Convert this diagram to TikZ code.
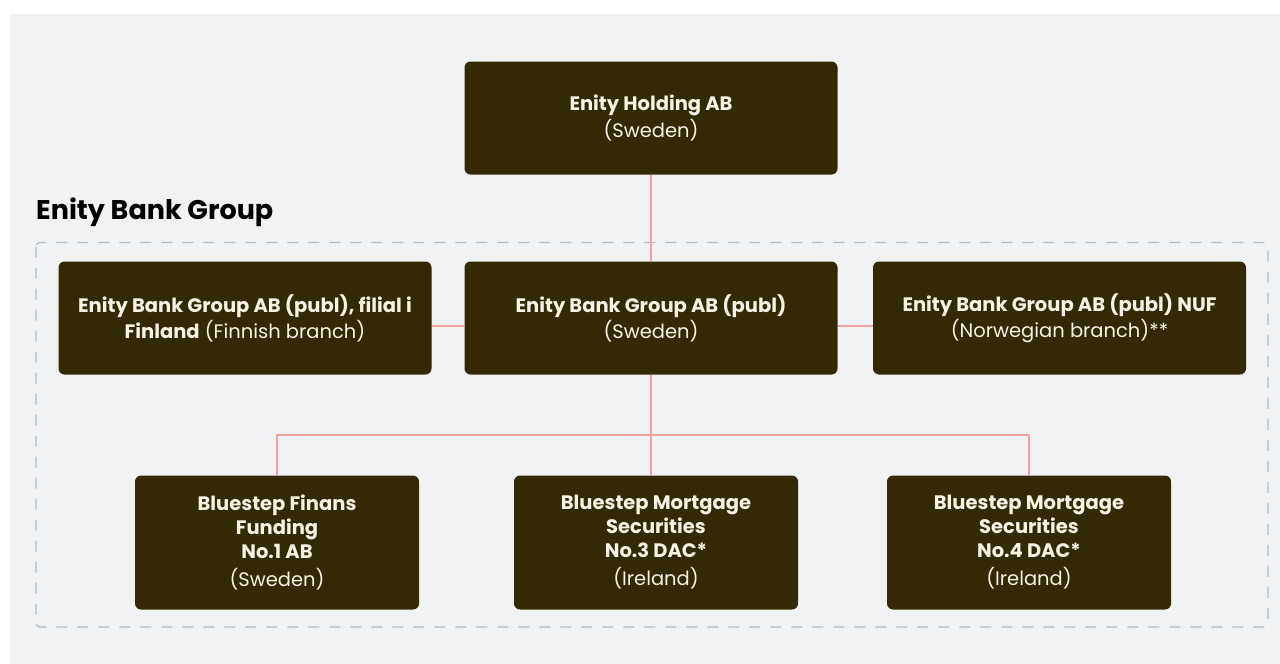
\documentclass[tikz,border=0pt]{standalone}
\usepackage{fontspec}
\setmainfont{Poppins}
\usetikzlibrary{calc}

\definecolor{bgGray}{HTML}{F1F2F4}
\definecolor{boxBrown}{HTML}{342905}
\definecolor{boxText}{HTML}{F8F2E4}
\definecolor{linkPink}{HTML}{F2A39F}
\definecolor{dashGray}{HTML}{B2BCC8}

\begin{document}
\begin{tikzpicture}[x=1pt, y=-1pt, line join=round, line cap=butt,
    entity/.style={fill=boxBrown, text=boxText, rounded corners=6pt, align=center,
        inner sep=0pt, font=\fontsize{19.5}{24}\selectfont},
    wide/.style={entity, minimum width=373pt, minimum height=113pt},
    narrow/.style={entity, minimum width=284pt, minimum height=134pt},
    link/.style={draw=linkPink, line width=1.8pt}]
    \useasboundingbox (0,0) rectangle (1280,664);
    \fill[bgGray] (10,14) rectangle (1280,664);

    % group frame
    \draw[dashGray, line width=1.2pt, dash pattern=on 11pt off 10pt, rounded corners=4pt]
        (36,242.5) rectangle (1268,627);
    \node[anchor=base west, inner sep=0pt, font=\fontsize{27}{30}\selectfont\bfseries] (grouptitle)
        at (36,219) {Enity Bank Group};

    \node[wide] (holding) at (651,118) {\textbf{Enity Holding AB}\\[3pt](Sweden)};
    \node[wide] (bankab) at (651,318) {\textbf{Enity Bank Group AB (publ)}\\[2pt](Sweden)};
    \node[wide] (finland) at (245,318) {\textbf{Enity Bank Group AB (publ), filial i}\\[2pt]\textbf{Finland} (Finnish branch)};
    \node[wide] (norway) at (1059.5,318) {\textbf{Enity Bank Group AB (publ) NUF}\\[2pt](Norwegian branch)**};

    \node[narrow] (finans) at (277,542.5) {\textbf{Bluestep Finans}\\\textbf{Funding}\\\textbf{No.1 AB}\\[4pt](Sweden)};
    \node[narrow] (dac3) at (656,542.5) {\textbf{Bluestep Mortgage}\\\textbf{Securities}\\\textbf{No.3 DAC*}\\[4pt](Ireland)};
    \node[narrow] (dac4) at (1029,542.5) {\textbf{Bluestep Mortgage}\\\textbf{Securities}\\\textbf{No.4 DAC*}\\[4pt](Ireland)};

    \coordinate (split) at (651,435);

    % connectors
    \draw[link] (holding.south) -- (bankab.north);
    \draw[link] ([yshift=-8pt]finland.east) -- ([yshift=-8pt]bankab.west);
    \draw[link] ([yshift=-8pt]bankab.east) -- ([yshift=-8pt]norway.west);
    \draw[link] (bankab.south) -- (split);
    \draw[link] (finans.north) |- (split) -| (dac4.north);
    \draw[link] (split) -- (split |- dac3.north);
\end{tikzpicture}
\end{document}
